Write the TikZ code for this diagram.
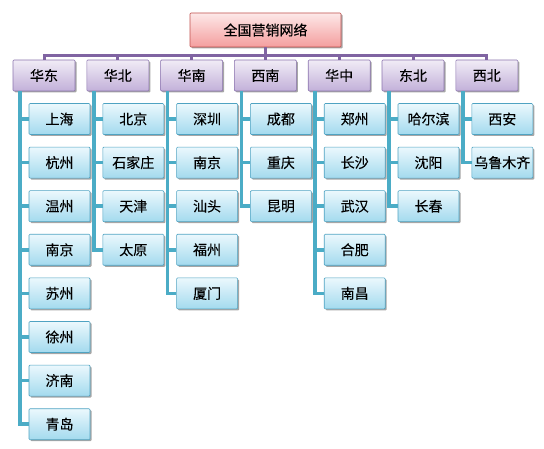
\documentclass[tikz,border=0pt]{standalone}
\usepackage{fontspec}
\setmainfont[BoldFont={Noto Sans CJK SC},BoldFeatures={FakeBold=0.15}]{Noto Sans CJK SC}
\usetikzlibrary{shadows}
\definecolor{toptop}{HTML}{FDE8E8}
\definecolor{topbot}{HTML}{F49E9E}
\definecolor{topborder}{HTML}{C0504D}
\definecolor{regtop}{HTML}{F1ECF6}
\definecolor{regbot}{HTML}{C2B0D9}
\definecolor{regborder}{HTML}{8B74AE}
\definecolor{citytop}{HTML}{EBF8FD}
\definecolor{citybot}{HTML}{A3DAEE}
\definecolor{cityborder}{HTML}{4FA3C2}
\definecolor{purpleline}{HTML}{8064A2}
\definecolor{blueline}{HTML}{4BACC6}
\begin{document}
\begin{tikzpicture}[x=1pt,y=-1pt,
  every node/.style={font=\fontsize{14pt}{16pt}\bfseries, inner sep=0pt, rounded corners=1pt},
  shad/.style={drop shadow={shadow xshift=1.5pt,shadow yshift=-1.5pt,opacity=0.35,fill=black}},
  topbox/.style={shad, draw=topborder, line width=0.6pt, top color=toptop, bottom color=topbot, minimum width=151pt, minimum height=34pt},
  regbox/.style={shad, draw=regborder, line width=0.6pt, top color=regtop, bottom color=regbot, minimum width=62pt, minimum height=31pt},
  citybox/.style={shad, draw=cityborder, line width=0.6pt, top color=citytop, bottom color=citybot, minimum width=61pt, minimum height=31pt},
  pline/.style={draw=purpleline, line width=3pt},
  bline/.style={draw=blueline, line width=3.5pt}]
\useasboundingbox (0,0) rectangle (544,449);
\node[topbox] (top) at (265.5,30) {全国营销网络};
\coordinate (bar) at (0,55.5);
\foreach \r/\cl [count=\i from 0] in {华东/{上海,杭州,温州,南京,苏州,徐州,济南,青岛},华北/{北京,石家庄,天津,太原},华南/{深圳,南京,汕头,福州,厦门},西南/{成都,重庆,昆明},华中/{郑州,长沙,武汉,合肥,南昌},东北/{哈尔滨,沈阳,长春},西北/{西安,乌鲁木齐}}{
  \pgfmathsetmacro\xr{44+73.8*\i}
  \node[regbox] (r\i) at (\xr,75.5) {\r};
  \draw[pline] (top.south) -- (top.south|-bar) -| (r\i.north);
  \foreach \c [count=\j from 0] in \cl {
    \pgfmathsetmacro\yc{119+43.6*\j}
    \node[citybox] (c\i-\j) at (\xr+15.5,\yc) {\c};
    \draw[bline] ([xshift=-24pt]r\i.south) |- (c\i-\j.west);
  }
}
\end{tikzpicture}
\end{document}
